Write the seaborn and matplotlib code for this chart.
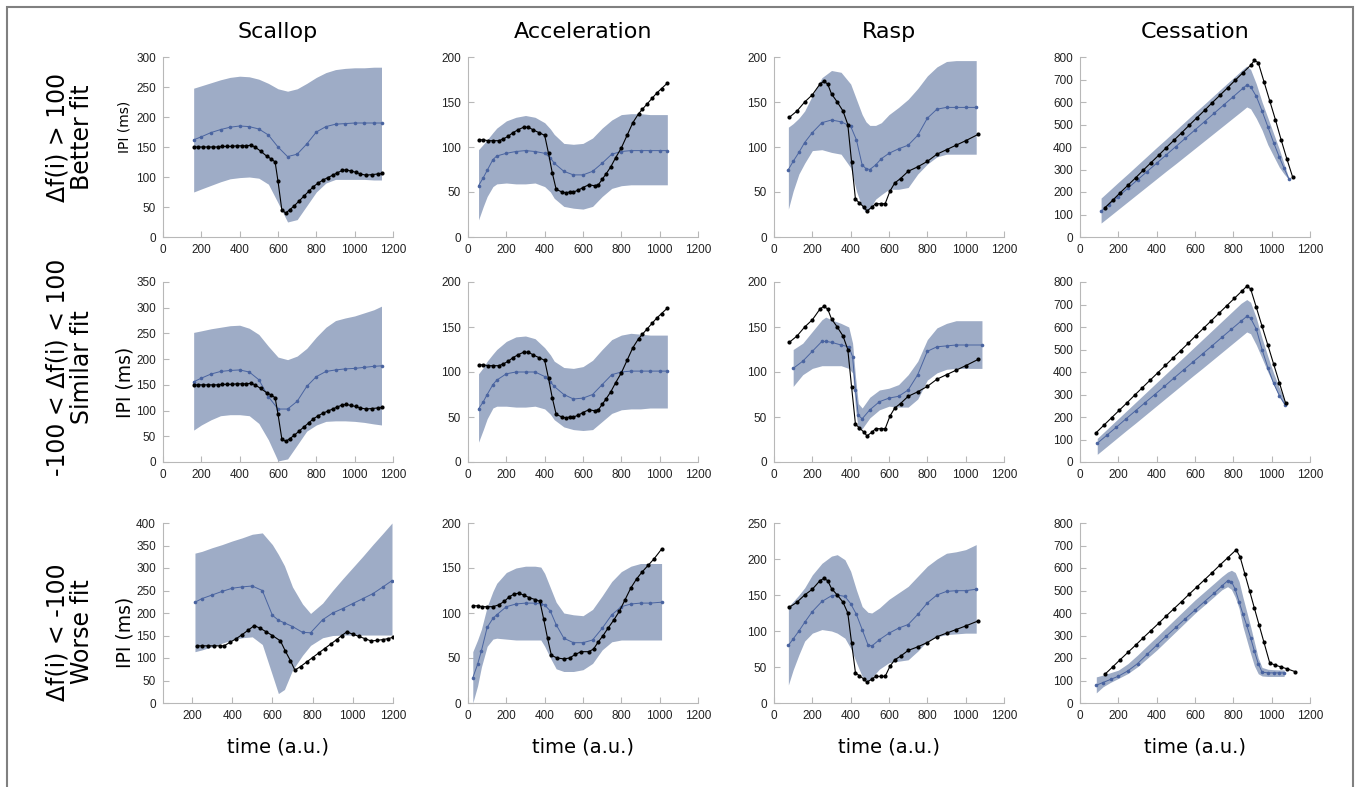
import numpy as np
import matplotlib
matplotlib.use("Agg")
import matplotlib.pyplot as plt
import seaborn as sns
from matplotlib.patches import Rectangle

# ---------------- data ----------------
col_titles = ["Scallop", "Acceleration", "Rasp", "Cessation"]
row_labels = ["\u0394f(i) > 100\nBetter fit",
              "-100 < \u0394f(i) < 100\nSimilar fit",
              "\u0394f(i) < -100\nWorse fit"]

# Scallop
scallop_obs_x = [160, 185, 210, 235, 260, 285, 310, 335, 360, 385, 410, 435, 460, 480, 510, 540, 565, 585,
                 600, 620, 640, 660, 685, 710, 735, 760, 785, 810, 835, 860, 885, 910, 935, 955, 980, 1005,
                 1030, 1060, 1090, 1120, 1145]
scallop_obs_y = [150, 150, 150, 150, 150, 150, 151, 151, 151, 152, 152, 152, 153, 150, 143, 135, 130, 125,
                 93, 45, 40, 45, 52, 60, 68, 76, 84, 90, 95, 99, 103, 107, 111, 112, 110, 108,
                 105, 103, 104, 105, 106]
scallop1_x = [160, 200, 250, 300, 350, 400, 450, 500, 550, 600, 650, 700, 750, 800, 850, 900, 950, 1000, 1050, 1100, 1140]
scallop1_hi = [248, 252, 257, 262, 266, 268, 267, 263, 256, 247, 243, 247, 256, 266, 274, 279, 281, 282, 282, 283, 283]
scallop1_lo = [75, 80, 86, 92, 97, 99, 100, 98, 88, 57, 25, 29, 52, 75, 90, 96, 96, 96, 96, 95, 95]
scallop1_mu = [162, 167, 174, 179, 183, 185, 184, 180, 170, 150, 134, 138, 155, 175, 184, 188, 189, 190, 190, 190, 190]

scallop2_x = [160, 200, 250, 300, 350, 400, 450, 500, 550, 600, 650, 700, 750, 800, 850, 900, 950, 1000, 1050, 1100, 1140]
scallop2_hi = [252, 255, 259, 262, 265, 266, 260, 248, 225, 204, 199, 206, 221, 243, 262, 275, 280, 284, 290, 296, 303]
scallop2_lo = [62, 72, 82, 90, 92, 92, 90, 75, 43, 2, 6, 33, 60, 72, 79, 80, 80, 79, 77, 74, 72]
scallop2_mu = [156, 163, 171, 176, 178, 179, 175, 160, 127, 103, 103, 118, 147, 166, 176, 179, 181, 182, 184, 186, 187]

scallop3_obs_x = [225, 250, 280, 310, 340, 360, 390, 420, 450, 480, 510, 540, 570, 600, 640, 665, 690, 712,
                  740, 770, 800, 830, 860, 890, 920, 945, 970, 1000, 1030, 1060, 1090, 1120, 1150, 1175, 1200]
scallop3_obs_y = [127, 127, 127, 127, 127, 127, 135, 143, 152, 162, 172, 166, 158, 150, 138, 115, 94, 73,
                  81, 91, 101, 111, 121, 131, 141, 150, 158, 153, 148, 143, 138, 139, 141, 143, 146]
scallop3_x = [215, 250, 300, 350, 400, 450, 500, 550, 600, 630, 660, 700, 750, 790, 850, 900, 950, 1000, 1050, 1100, 1150, 1195]
scallop3_hi = [333, 337, 345, 352, 360, 367, 375, 378, 352, 330, 305, 258, 220, 199, 222, 250, 276, 301, 326, 352, 377, 400]
scallop3_lo = [114, 118, 125, 133, 140, 145, 147, 130, 62, 21, 30, 73, 106, 128, 145, 150, 151, 151, 151, 151, 151, 151]
scallop3_mu = [224, 232, 240, 248, 255, 258, 260, 250, 195, 184, 178, 170, 157, 156, 185, 200, 210, 221, 232, 243, 258, 272]

# Acceleration
accel_obs_x = [55, 80, 105, 130, 160, 185, 210, 235, 260, 290, 315, 340, 370, 400, 420, 440, 460, 490, 510, 530,
               550, 575, 600, 630, 660, 680, 700, 720, 745, 770, 800, 830, 860, 890, 910, 935, 960, 985, 1010, 1040]
accel_obs_y = [108, 108, 107, 107, 107, 109, 112, 116, 119, 122, 122, 119, 116, 113, 93, 71, 53, 50, 49, 50,
               50, 52, 55, 58, 57, 58, 64, 70, 78, 88, 99, 113, 127, 137, 142, 148, 154, 160, 165, 171]
accel_x = [55, 80, 100, 130, 150, 200, 250, 300, 350, 400, 430, 450, 500, 550, 600, 650, 700, 750, 800, 850, 900, 950, 1000, 1040]
accel1_hi = [97, 103, 108, 116, 121, 129, 133, 135, 133, 127, 120, 114, 104, 103, 104, 110, 121, 130, 136, 137, 137, 136, 136, 136]
accel1_lo = [19, 34, 45, 56, 59, 60, 59, 59, 60, 56, 50, 43, 34, 32, 31, 34, 45, 54, 57, 58, 58, 58, 58, 58]
accel1_mu = [57, 66, 74, 86, 90, 93, 95, 96, 95, 93, 88, 82, 73, 69, 69, 73, 82, 92, 95, 96, 96, 96, 96, 96]
accel2_hi = [98, 105, 112, 120, 125, 134, 139, 140, 137, 127, 119, 112, 105, 104, 106, 113, 125, 136, 141, 143, 142, 141, 141, 141]
accel2_lo = [22, 36, 48, 60, 62, 62, 61, 61, 62, 59, 53, 47, 39, 36, 35, 36, 45, 54, 58, 59, 59, 60, 60, 60]
accel2_mu = [59, 67, 75, 86, 91, 98, 100, 100, 100, 95, 89, 84, 75, 70, 71, 75, 86, 97, 100, 101, 101, 101, 101, 101]

accel3_obs_x = [25, 50, 75, 100, 130, 160, 190, 215, 240, 265, 290, 320, 350, 375, 395, 415, 435, 465, 500, 530,
                560, 590, 630, 655, 680, 705, 730, 760, 790, 820, 850, 880, 910, 940, 970, 1010]
accel3_obs_y = [108, 108, 107, 107, 107, 109, 113, 118, 121, 122, 120, 117, 115, 113, 93, 72, 53, 50, 49, 50,
                54, 57, 57, 60, 68, 75, 83, 92, 102, 115, 128, 138, 146, 153, 160, 171]
accel3_x = [25, 50, 70, 100, 130, 150, 200, 250, 300, 350, 380, 400, 430, 460, 500, 550, 600, 650, 700, 750, 800, 850, 900, 950, 1010]
accel3_hi = [57, 70, 82, 107, 124, 133, 145, 150, 152, 152, 151, 144, 128, 112, 100, 98, 97, 104, 119, 135, 146, 152, 155, 155, 155]
accel3_lo = [0, 19, 40, 63, 71, 72, 71, 70, 70, 70, 70, 63, 50, 38, 35, 35, 37, 44, 59, 68, 70, 70, 70, 70, 70]
accel3_mu = [28, 43, 58, 84, 94, 98, 107, 110, 111, 111, 110, 109, 102, 87, 72, 67, 67, 70, 83, 98, 107, 110, 111, 111, 112]

# Rasp
rasp_obs_x = [80, 120, 160, 200, 240, 260, 280, 300, 330, 360, 385, 405, 425, 445, 470, 485, 510, 530, 560, 580,
              605, 630, 660, 700, 750, 800, 850, 900, 950, 1000, 1065]
rasp_obs_y = [133, 140, 150, 158, 170, 173, 170, 159, 150, 140, 125, 83, 42, 38, 33, 29, 33, 37, 37, 37,
              51, 60, 65, 73, 78, 84, 92, 97, 102, 107, 114]
rasp1_x = [75, 100, 130, 160, 200, 250, 300, 350, 400, 430, 460, 480, 500, 530, 560, 600, 650, 700, 750, 800, 850, 900, 950, 1000, 1055]
rasp1_hi = [122, 126, 132, 140, 157, 177, 185, 183, 170, 153, 136, 128, 124, 124, 127, 136, 144, 153, 165, 179, 189, 195, 196, 196, 196]
rasp1_lo = [31, 51, 70, 82, 96, 97, 94, 92, 77, 51, 33, 27, 31, 42, 47, 53, 53, 55, 70, 81, 89, 92, 92, 92, 92]
rasp1_mu = [75, 84, 94, 105, 116, 127, 130, 128, 123, 108, 80, 76, 75, 80, 87, 93, 98, 102, 113, 132, 142, 144, 144, 144, 144]

rasp2_x = [100, 150, 200, 250, 270, 300, 350, 390, 410, 425, 440, 460, 500, 550, 600, 650, 700, 750, 800, 850, 900, 950, 1000, 1085]
rasp2_hi = [125, 132, 145, 158, 161, 158, 154, 150, 132, 95, 65, 60, 72, 80, 82, 86, 97, 112, 136, 149, 154, 157, 157, 157]
rasp2_lo = [84, 97, 104, 107, 107, 107, 107, 104, 99, 60, 35, 37, 49, 58, 62, 61, 61, 70, 91, 99, 103, 104, 104, 104]
rasp2_mu = [104, 112, 123, 134, 134, 133, 130, 128, 117, 80, 52, 48, 58, 67, 71, 73, 80, 97, 123, 128, 129, 130, 130, 130]

rasp3_x = [75, 100, 130, 160, 200, 250, 300, 330, 370, 400, 430, 460, 490, 510, 550, 600, 650, 700, 750, 800, 850, 900, 950, 1000, 1055]
rasp3_hi = [134, 141, 150, 160, 178, 194, 204, 206, 199, 183, 157, 134, 126, 125, 132, 144, 153, 162, 176, 190, 200, 208, 210, 213, 220]
rasp3_lo = [25, 46, 67, 86, 97, 102, 100, 97, 90, 76, 56, 37, 30, 35, 47, 56, 58, 60, 72, 86, 92, 95, 96, 97, 97]
rasp3_mu = [80, 89, 100, 112, 127, 141, 149, 150, 148, 138, 123, 102, 81, 79, 88, 97, 104, 109, 123, 139, 150, 155, 156, 156, 158]

# Cessation
cess1_obs_x = [130, 170, 210, 250, 290, 330, 370, 410, 450, 490, 530, 570, 610, 650, 690, 730, 770, 810, 850, 890,
               910, 930, 960, 990, 1020, 1050, 1080, 1110]
cess1_obs_y = [130, 163, 197, 230, 263, 297, 330, 363, 397, 430, 463, 497, 530, 563, 597, 630, 663, 697, 730, 763,
               785, 775, 690, 605, 520, 430, 345, 265]
cess1_x = [110, 150, 200, 250, 300, 350, 400, 450, 500, 550, 600, 650, 700, 750, 800, 850, 870, 890, 920, 950, 980, 1010, 1040, 1065, 1090]
cess1_hi = [173, 204, 243, 281, 320, 359, 398, 436, 475, 514, 553, 591, 630, 669, 707, 746, 760, 745, 680, 600, 530, 460, 390, 325, 261]
cess1_lo = [62, 89, 123, 157, 191, 225, 259, 293, 326, 360, 394, 428, 462, 496, 530, 564, 578, 570, 527, 475, 410, 360, 310, 280, 255]
cess1_mu = [114, 144, 180, 217, 254, 291, 328, 365, 402, 439, 476, 513, 550, 587, 624, 661, 675, 668, 625, 560, 490, 420, 355, 305, 258]

cess2_obs_x = [85, 125, 165, 205, 245, 285, 325, 365, 405, 445, 485, 525, 565, 605, 645, 685, 725, 765, 805, 845,
               870, 890, 920, 950, 980, 1010, 1040, 1073]
cess2_obs_y = [131, 164, 197, 230, 263, 297, 330, 363, 396, 429, 462, 495, 528, 562, 595, 628, 661, 694, 727, 760,
               781, 770, 687, 603, 520, 436, 353, 261]
cess2_x = [90, 140, 190, 240, 290, 340, 390, 440, 490, 540, 590, 640, 690, 740, 790, 840, 870, 890, 920, 950, 980, 1010, 1040, 1070]
cess2_hi = [105, 145, 185, 225, 265, 305, 345, 385, 425, 465, 505, 545, 585, 625, 665, 705, 722, 710, 640, 550, 470, 395, 330, 270]
cess2_lo = [34, 69, 104, 139, 173, 208, 243, 278, 313, 348, 383, 417, 452, 487, 522, 557, 578, 570, 520, 461, 400, 345, 290, 246]
cess2_mu = [83, 119, 155, 192, 228, 264, 300, 336, 373, 409, 445, 481, 517, 554, 590, 626, 647, 640, 590, 500, 420, 350, 295, 255]

cess3_obs_x = [130, 170, 210, 250, 290, 330, 370, 410, 450, 490, 530, 570, 610, 650, 690, 730, 770, 815, 835, 860,
               885, 910, 935, 960, 990, 1020, 1050, 1080, 1120]
cess3_obs_y = [128, 160, 193, 225, 257, 290, 322, 354, 387, 419, 451, 484, 516, 548, 580, 613, 645, 681, 650, 574,
               498, 421, 345, 269, 178, 168, 160, 152, 140]
cess3_x = [85, 120, 160, 200, 250, 300, 350, 400, 450, 500, 550, 600, 650, 700, 740, 770, 790, 810, 830, 850, 870, 890,
           910, 930, 950, 980, 1010, 1040, 1065]
cess3_hi = [116, 124, 135, 146, 175, 213, 254, 294, 335, 376, 417, 458, 495, 532, 562, 582, 590, 580, 540, 470, 405, 340,
            270, 200, 158, 150, 148, 147, 147]
cess3_lo = [45, 72, 92, 109, 131, 161, 198, 235, 276, 317, 358, 399, 436, 473, 503, 517, 505, 470, 420, 340, 280, 220,
            165, 130, 120, 118, 118, 118, 118]
cess3_mu = [79, 91, 105, 119, 143, 175, 216, 257, 297, 336, 375, 413, 451, 488, 520, 543, 540, 505, 450, 395, 345, 290,
            230, 175, 137, 134, 134, 134, 134]

# per-row y axis tops
scallop_ymax = [300, 350, 400]
accel_ymax = [200, 200, 200]
rasp_ymax = [200, 200, 250]
cess_ymax = [800, 800, 800]

# ---------------- styling ----------------
BAND = "#9eacc6"
MEAN = "#4a64a0"
SPINE = "#b8b8b8"

sns.set_style("ticks")
plt.rcParams["font.family"] = ["DejaVu Sans"]
plt.rcParams["text.color"] = "black"

panels = [
    [(scallop1_x, scallop1_lo, scallop1_hi, scallop1_mu, scallop_obs_x, scallop_obs_y, scallop_ymax[0], 50),
     (accel_x, accel1_lo, accel1_hi, accel1_mu, accel_obs_x, accel_obs_y, accel_ymax[0], 50),
     (rasp1_x, rasp1_lo, rasp1_hi, rasp1_mu, rasp_obs_x, rasp_obs_y, rasp_ymax[0], 50),
     (cess1_x, cess1_lo, cess1_hi, cess1_mu, cess1_obs_x, cess1_obs_y, cess_ymax[0], 100)],
    [(scallop2_x, scallop2_lo, scallop2_hi, scallop2_mu, scallop_obs_x, scallop_obs_y, scallop_ymax[1], 50),
     (accel_x, accel2_lo, accel2_hi, accel2_mu, accel_obs_x, accel_obs_y, accel_ymax[1], 50),
     (rasp2_x, rasp2_lo, rasp2_hi, rasp2_mu, rasp_obs_x, rasp_obs_y, rasp_ymax[1], 50),
     (cess2_x, cess2_lo, cess2_hi, cess2_mu, cess2_obs_x, cess2_obs_y, cess_ymax[1], 100)],
    [(scallop3_x, scallop3_lo, scallop3_hi, scallop3_mu, scallop3_obs_x, scallop3_obs_y, scallop_ymax[2], 50),
     (accel3_x, accel3_lo, accel3_hi, accel3_mu, accel3_obs_x, accel3_obs_y, accel_ymax[2], 50),
     (rasp3_x, rasp3_lo, rasp3_hi, rasp3_mu, rasp_obs_x, rasp_obs_y, rasp_ymax[2], 50),
     (cess3_x, cess3_lo, cess3_hi, cess3_mu, cess3_obs_x, cess3_obs_y, cess_ymax[2], 100)],
]

W, H = 1358, 787
fig = plt.figure(figsize=(W / 100, H / 100), dpi=100)

col_left = [163, 468, 774, 1080]
row_top = [57, 282, 523]
ax_w, ax_h = 230, 180

for r in range(3):
    for c in range(4):
        bx, lo, hi, mu, ox, oy, ymax, ystep = panels[r][c]
        ax = fig.add_axes([col_left[c] / W, 1 - (row_top[r] + ax_h) / H, ax_w / W, ax_h / H])
        ax.fill_between(bx, lo, hi, color=BAND, lw=0)
        sns.lineplot(x=bx, y=mu, ax=ax, color=MEAN, lw=0.7, marker="o", markersize=2.6,
                     markeredgewidth=0, sort=False, estimator=None)
        sns.lineplot(x=ox, y=oy, ax=ax, color="black", lw=0.8, marker="o", markersize=3.0,
                     markeredgewidth=0, sort=False, estimator=None)

        if r == 2 and c == 0:
            ax.set_xlim(56, 1200)
            ax.set_xticks(range(200, 1201, 200))
        else:
            ax.set_xlim(0, 1200)
            ax.set_xticks(range(0, 1201, 200))
        ax.set_ylim(0, ymax)
        ax.set_yticks(range(0, ymax + 1, ystep))

        sns.despine(ax=ax)
        for s in ("left", "bottom"):
            ax.spines[s].set_color(SPINE)
            ax.spines[s].set_linewidth(0.8)
        ax.tick_params(direction="in", length=4, width=0.8, color=SPINE,
                       labelsize=8.5, labelcolor="#222222", pad=5)
        for lab in ax.get_xticklabels() + ax.get_yticklabels():
            lab.set_family(["Liberation Sans", "DejaVu Sans"])
        ax.set_xlabel("")
        ax.set_ylabel("")

# column titles
for c, t in enumerate(col_titles):
    fig.text((col_left[c] + ax_w / 2) / W, 1 - 32 / H, t, ha="center", va="center", fontsize=16)

# row labels
row_label_y = [137, 367, 632]
for r, t in enumerate(row_labels):
    fig.text(70 / W, 1 - row_label_y[r] / H, t, rotation=90, ha="center", va="center",
             fontsize=17, multialignment="center", linespacing=1.0)

# IPI labels
ipi_y = [127, 382, 632]
ipi_size = [10, 13.5, 13.5]
for r in range(3):
    fig.text(125 / W, 1 - ipi_y[r] / H, "IPI (ms)", rotation=90, ha="center", va="center",
             fontsize=ipi_size[r])

# time labels
for c in range(4):
    fig.text((col_left[c] + ax_w / 2) / W, 1 - 747 / H, "time (a.u.)", ha="center", va="center",
             fontsize=14)

# frame around the figure
fig.patches.append(Rectangle((7 / W, -0.02), (1353 - 7) / W, 1.02 - 7 / H, transform=fig.transFigure,
                             fill=False, edgecolor="#808080", lw=1.5))

fig.savefig("out.png", dpi=100)
